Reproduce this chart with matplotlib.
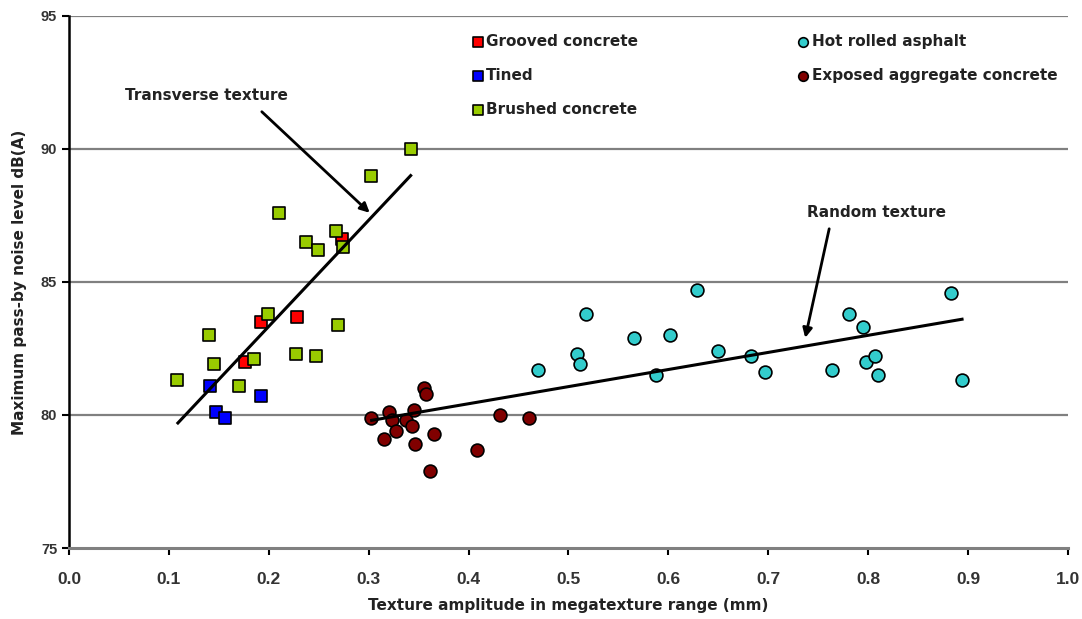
import matplotlib.pyplot as plt

plt.rcParams["font.family"] = ["Liberation Sans", "DejaVu Sans"]

# Brushed concrete (green squares)
brushed_x = [0.342, 0.302, 0.210, 0.267, 0.237, 0.249, 0.274, 0.199, 0.269, 0.140,
             0.145, 0.108, 0.170, 0.185, 0.227, 0.247]
brushed_y = [90.0, 89.0, 87.6, 86.9, 86.5, 86.2, 86.3, 83.8, 83.4, 83.0,
             81.9, 81.3, 81.1, 82.1, 82.3, 82.2]

# Grooved concrete (red squares)
grooved_x = [0.273, 0.192, 0.228, 0.176]
grooved_y = [86.6, 83.5, 83.7, 82.0]

# Tined (blue squares)
tined_x = [0.141, 0.192, 0.147, 0.156]
tined_y = [81.1, 80.7, 80.1, 79.9]

# Hot rolled asphalt (cyan circles)
hra_x = [0.469, 0.509, 0.512, 0.518, 0.566, 0.602, 0.629, 0.588, 0.650, 0.683,
         0.697, 0.764, 0.781, 0.795, 0.798, 0.807, 0.810, 0.883, 0.894]
hra_y = [81.7, 82.3, 81.9, 83.8, 82.9, 83.0, 84.7, 81.5, 82.4, 82.2,
         81.6, 81.7, 83.8, 83.3, 82.0, 82.2, 81.5, 84.6, 81.3]

# Exposed aggregate concrete (dark red circles)
eac_x = [0.302, 0.320, 0.323, 0.315, 0.327, 0.337, 0.345, 0.343, 0.355, 0.357,
         0.365, 0.346, 0.361, 0.408, 0.431, 0.460]
eac_y = [79.9, 80.1, 79.8, 79.1, 79.4, 79.8, 80.2, 79.6, 81.0, 80.8,
         79.3, 78.9, 77.9, 78.7, 80.0, 79.9]

# Trend lines
transverse_x = [0.109, 0.342]
transverse_y = [79.7, 89.0]
random_x = [0.303, 0.894]
random_y = [79.8, 83.6]

label_font = dict(family=["DejaVu Sans"], fontsize=11, fontweight="bold", color="#222222")

fig = plt.figure(figsize=(10.82, 6.19), dpi=100)
ax = fig.add_axes([0.0638, 0.1147, 0.9232, 0.8595])

for yv in [80, 85, 90, 95]:
    ax.axhline(yv, color="#808080", linewidth=1.6, zorder=0)

sq = dict(marker="s", s=75, edgecolors="black", linewidths=1.2, zorder=3)
ci = dict(marker="o", s=85, edgecolors="black", linewidths=1.2, zorder=3)

ax.scatter(grooved_x, grooved_y, c="#ff0000", label="Grooved concrete", **sq)
ax.scatter(tined_x, tined_y, c="#0000ff", label="Tined", **sq)
ax.scatter(brushed_x, brushed_y, c="#99cc00", label="Brushed concrete", **sq)
ax.scatter(hra_x, hra_y, c="#33cccc", label="Hot rolled asphalt", **ci)
ax.scatter(eac_x, eac_y, c="#800000", label="Exposed aggregate concrete", **ci)

ax.plot(transverse_x, transverse_y, color="black", linewidth=2.2, zorder=4)
ax.plot(random_x, random_y, color="black", linewidth=2.2, zorder=4)

# texture annotations
arrow = dict(arrowstyle="-|>", color="black", lw=2, shrinkA=0, shrinkB=0, mutation_scale=14)
ax.text(0.138, 92.0, "Transverse texture", ha="center", va="center", **label_font)
ax.annotate("", xy=(0.301, 87.6), xytext=(0.193, 91.4), arrowprops=arrow)
ax.text(0.808, 87.63, "Random texture", ha="center", va="center", **label_font)
ax.annotate("", xy=(0.737, 82.9), xytext=(0.761, 87.0), arrowprops=arrow)

ax.set_xlim(0, 1.0)
ax.set_ylim(75, 95)
ax.set_xticks([i / 10 for i in range(11)])
ax.set_xticklabels([f"{i / 10:.1f}" for i in range(11)])
ax.set_yticks([75, 80, 85, 90, 95])

for s in ["top", "right"]:
    ax.spines[s].set_visible(False)
ax.spines["left"].set_linewidth(1.8)
ax.spines["bottom"].set_color("#808080")
ax.spines["bottom"].set_linewidth(2.2)
ax.tick_params(axis="both", direction="out", length=5, width=1.5, labelsize=10.5, colors="black")
ax.tick_params(axis="x", pad=12, labelsize=12.5)
for lbl in ax.get_xticklabels() + ax.get_yticklabels():
    lbl.set_fontweight("bold")
    lbl.set_color("#333333")

ax.set_xlabel("Texture amplitude in megatexture range (mm)", labelpad=8, **label_font)
ax.set_ylabel("Maximum pass-by noise level dB(A)", labelpad=10, **label_font)

leg = ax.legend(ncol=2, loc="upper left", bbox_to_anchor=(0.397, 0.978), frameon=False,
                prop=dict(family="DejaVu Sans", size=11, weight="bold"),
                handlelength=0.8, handletextpad=0.15, columnspacing=10.4, labelspacing=1.26,
                markerscale=0.75, borderaxespad=0)
for t in leg.get_texts():
    t.set_color("#222222")

fig.savefig("out.png", dpi=100)
